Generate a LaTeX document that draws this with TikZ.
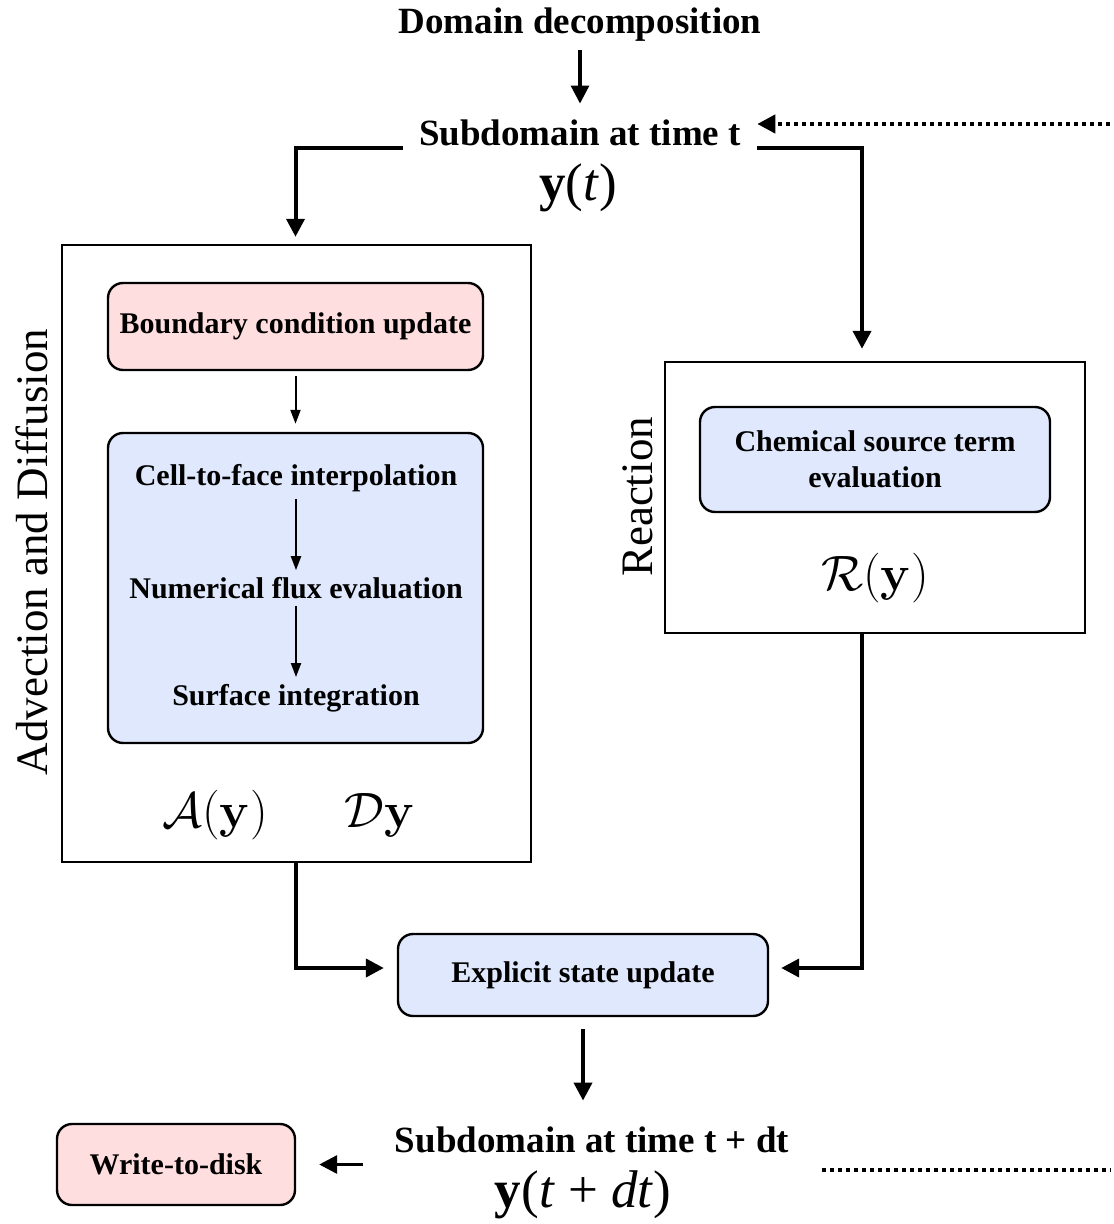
\documentclass[tikz,border=0pt]{standalone}
\usepackage[no-math]{fontspec}
\setmainfont{Liberation Serif}
\usetikzlibrary{arrows.meta}
\definecolor{boxpink}{RGB}{255,222,223}
\definecolor{boxblue}{RGB}{223,232,252}

\begin{document}
\begin{tikzpicture}[x=0.5pt,y=-0.5pt]
	\tikzstyle{title}=[font=\fontsize{18.5}{22}\selectfont\bfseries, inner sep=0pt]
	\tikzstyle{item}=[font=\fontsize{15}{18}\selectfont\bfseries]
	\tikzstyle{frame}=[draw, line width=1.2pt, inner sep=0pt]
	\tikzstyle{pinkbox}=[frame, rounded corners=7.5pt, fill=boxpink, item, align=center]
	\tikzstyle{bluebox}=[frame, rounded corners=7.5pt, fill=boxblue, item, align=center]
	\tikzstyle{side}=[font=\fontsize{22.5}{27}\selectfont, rotate=90]
	\tikzstyle{eq}=[font=\fontsize{26.5}{30}\selectfont]
	\tikzstyle{bigarrow}=[line width=2pt, -{Triangle[length=9pt,width=9pt]}]
	\tikzstyle{smallarrow}=[line width=1pt, -{Triangle[length=7pt,width=5pt]}]
	\tikzstyle{loop}=[line width=2pt, dotted]
	\useasboundingbox (0,0) rectangle (1113,1224);

	% top
	\node[title] (dd) at (580,25) {Domain decomposition};
	\node[title, inner xsep=8pt] (sub) at (580,133) {Subdomain at time t};
	\node[eq] (yt) at (578,188) {{\bfseries y}(\textit{t})};
	\coordinate (loopin) at (1110,124);
	\coordinate (rturn) at (862,148);

	% advection and diffusion
	\node[frame, minimum width=234.5pt, minimum height=308.5pt] (adv) at (296.5,553.5) {};
	\node[side] (advlbl) at (32,552) {Advection and Diffusion};
	\node[pinkbox, minimum width=187.5pt, minimum height=43.5pt] (bcu) at (295.5,326.5) {Boundary condition update};
	\node[bluebox, minimum width=187.5pt, minimum height=155pt] (num) at (295.5,588) {};
	\node[item] (c2f) at (296,478) {Cell-to-face interpolation};
	\node[item] (nfe) at (296,588) {Numerical flux evaluation};
	\node[item] (si) at (296,698) {Surface integration};
	\node[eq] (ay) at (215,815) {$\mathcal{A}(\mathbf{y})$};
	\node[eq] (dy) at (380,815) {$\mathcal{D}\mathbf{y}$};

	% reaction
	\node[frame, minimum width=210pt, minimum height=135.5pt] (rea) at (875,497.5) {};
	\node[side] (realbl) at (638,497) {Reaction};
	\node[bluebox, minimum width=175pt, minimum height=52.5pt] (cst) at (875,459.5) {Chemical source term\\evaluation};
	\node[eq] (ry) at (875,578) {$\mathcal{R}(\mathbf{y})$};

	% bottom
	\node[bluebox, minimum width=185pt, minimum height=41pt] (esu) at (583,975) {Explicit state update};
	\node[title] (subdt) at (592,1140) {Subdomain at time t + dt};
	\node[eq] (ydt) at (583,1195) {{\bfseries y}(\textit{t} + \textit{dt})};
	\node[pinkbox, minimum width=119pt, minimum height=40.5pt] (wtd) at (176,1164.5) {Write-to-disk};
	\coordinate (loopout) at (1110,1170);

	\draw[bigarrow, line width=1.6pt, shorten <=4pt, shorten >=8pt] (dd.south -| sub.north) -- (sub.north);
	\draw[loop, -{Triangle[length=9pt,width=9pt]}] (loopin) -- (loopin -| sub.east);
	\draw[bigarrow, shorten >=3.5pt] ([yshift=-7.5pt]sub.west) -| (adv.north -| bcu.north);
	\draw[bigarrow, shorten >=6pt] ([yshift=-7.5pt]sub.east) -- (rturn) -- (rturn |- rea.north);
	\draw[smallarrow, shorten <=2.5pt, shorten >=4pt] (bcu) -- (num);
	\draw[smallarrow] (c2f) -- (nfe);
	\draw[smallarrow] (nfe) -- (si);
	\draw[bigarrow, shorten >=6.5pt] (adv.south -| bcu.south) |- ([yshift=3.5pt]esu.west);
	\draw[bigarrow, shorten >=6pt] (rea.south -| rturn) |- ([yshift=3.5pt]esu.east);
	\draw[bigarrow, shorten <=6pt, shorten >=13pt] (esu.south) -- (esu.south |- subdt.north);
	\draw[bigarrow, line width=1.6pt, shorten <=16pt, shorten >=11.5pt] (subdt.west |- wtd.east) -- (wtd.east);
	\draw[loop] ([xshift=16pt]subdt.east |- loopout) -- (loopout);
\end{tikzpicture}
\end{document}
